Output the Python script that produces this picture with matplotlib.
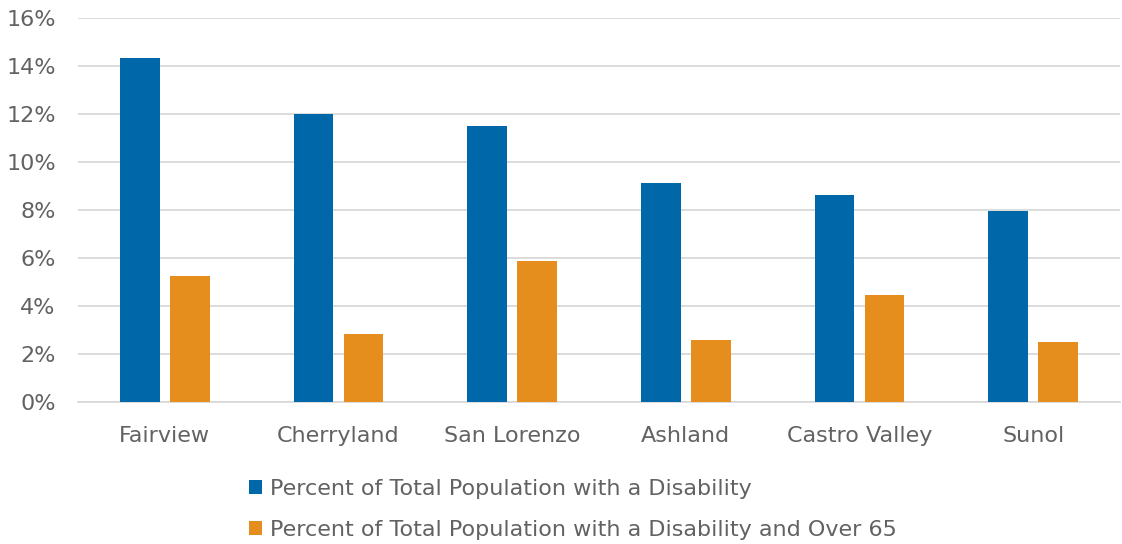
import matplotlib.pyplot as plt
import numpy as np
from matplotlib.ticker import FuncFormatter, MultipleLocator

plt.rcParams['font.family'] = ['DejaVu Sans']

# Udział osób z niepełnosprawnością w poszczególnych miejscowościach (%)
places = ['Fairview', 'Cherryland', 'San Lorenzo', 'Ashland', 'Castro Valley', 'Sunol']
disability = [14.35, 12.0, 11.5, 9.12, 8.62, 7.95]
disability_65 = [5.25, 2.82, 5.87, 2.6, 4.45, 2.5]

labels = ['Percent of Total Population with a Disability',
          'Percent of Total Population with a Disability and Over 65']

BLUE = '#0067a8'
ORANGE = '#e68e1d'
TEXT = '#626262'
GRID = '#d9d9d9'

fig = plt.figure(figsize=(11.22, 5.44), dpi=100)
ax = fig.add_axes([78 / 1122, 1 - 402 / 544, 1042 / 1122, 384 / 544])

x = np.arange(len(places))
w = 0.23
ax.bar(x - 0.144, disability, width=w, color=BLUE, label=labels[0], zorder=3)
ax.bar(x + 0.144, disability_65, width=w, color=ORANGE, label=labels[1], zorder=3)

ax.set_xlim(-0.5, len(places) - 0.5)
ax.set_ylim(0, 16)
ax.yaxis.set_major_locator(MultipleLocator(2))
ax.yaxis.set_major_formatter(FuncFormatter(lambda v, _: f'{v:.0f}%'))
ax.grid(axis='y', color=GRID, linewidth=1.3, zorder=0)

for s in ['top', 'right', 'left']:
    ax.spines[s].set_visible(False)
ax.spines['bottom'].set_color(GRID)
ax.spines['bottom'].set_linewidth(1.3)

ax.set_xticks(x)
ax.set_xticklabels(places)
ax.tick_params(axis='both', length=0, labelsize=16, labelcolor=TEXT)
ax.tick_params(axis='x', pad=17)
ax.tick_params(axis='y', pad=16)

leg = fig.legend(loc='upper left', bbox_to_anchor=(240 / 1122, 1 - 470 / 544),
                 frameon=False, fontsize=16, handlelength=0.6, handleheight=0.6,
                 handletextpad=0.35, labelspacing=0.95, borderaxespad=0)
for t in leg.get_texts():
    t.set_color(TEXT)

fig.savefig('out.png', dpi=100)
